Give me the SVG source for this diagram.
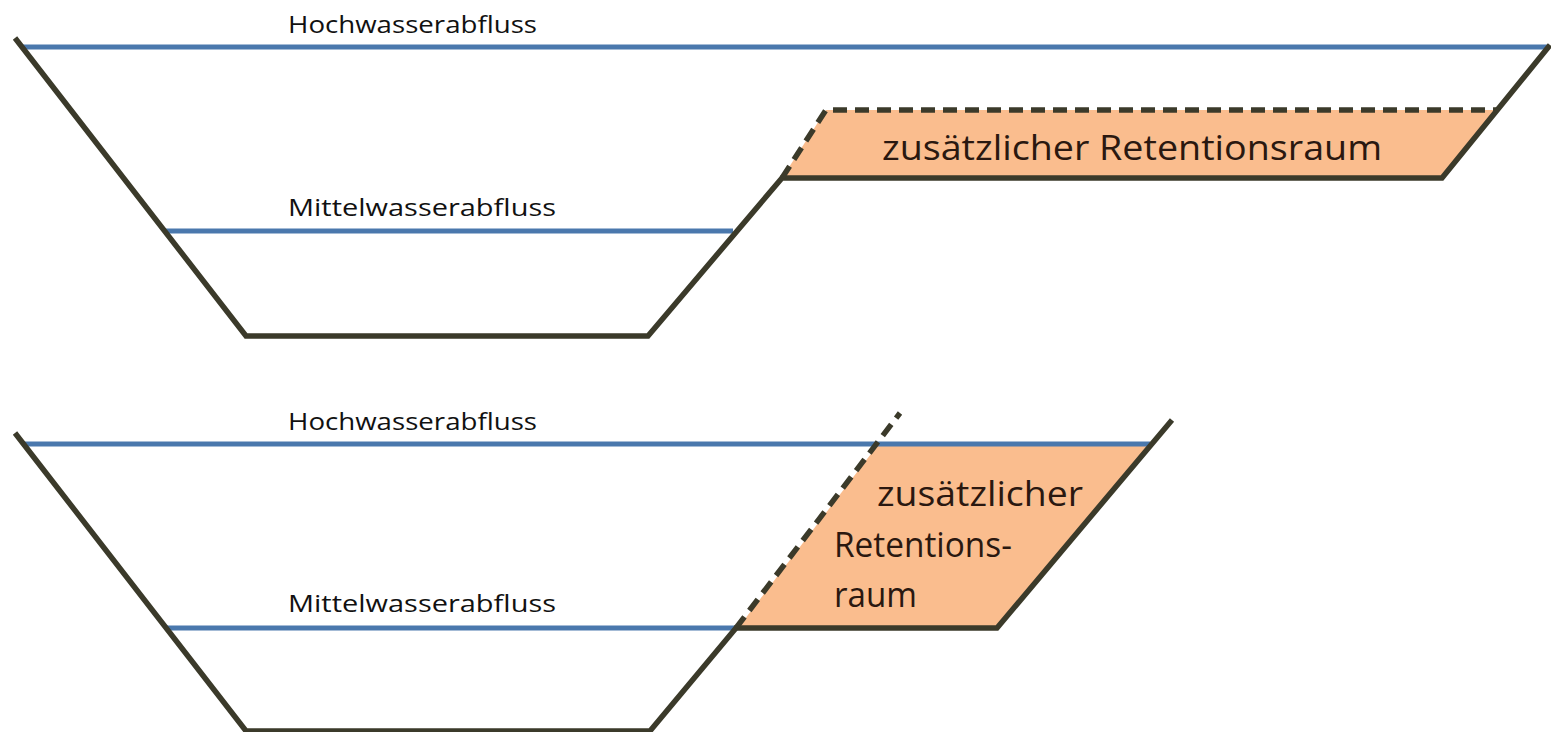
<svg xmlns="http://www.w3.org/2000/svg" width="1551" height="732" viewBox="0 0 1551 732">
<style>
.water{stroke:#4a78ad;stroke-width:5;fill:none}
.bank{stroke:#3b3a2a;stroke-width:5.5;fill:none;stroke-linejoin:miter}
.dash{stroke:#3b3a2a;stroke-width:5.5;fill:none;stroke-dasharray:14 8}
.fill{fill:#fabd8e;stroke:none}
.lbl{font-family:"Open Sans","Liberation Sans",sans-serif;font-size:23px;fill:#111}
.big{font-family:"Open Sans","Liberation Sans",sans-serif;font-size:35px;fill:#2a1810}
</style>
<rect width="1551" height="732" fill="#fff"/>
<g id="top">
  <polygon class="fill" points="782,178 826,110 1497,110 1442,178"/>
  <line class="water" x1="22" y1="47" x2="1548" y2="47"/>
  <line class="water" x1="165" y1="231" x2="733" y2="231"/>
  <polyline class="bank" points="15,38 246,336 648,336 782,178 1442,178 1550,45"/>
  <polyline class="dash" points="782,178 826,110 1497,110"/>
  <text class="lbl" x="288" y="33" textLength="249" lengthAdjust="spacingAndGlyphs">Hochwasserabfluss</text>
  <text class="lbl" x="288" y="216" textLength="268" lengthAdjust="spacingAndGlyphs">Mittelwasserabfluss</text>
  <text class="big" x="882" y="160" textLength="500" lengthAdjust="spacingAndGlyphs">zusätzlicher Retentionsraum</text>
</g>
<g id="bottom">
  <polygon class="fill" points="738,628 877,446 1150,446 997,628"/>
  <line class="water" x1="22" y1="444" x2="1150" y2="444"/>
  <line class="water" x1="165" y1="628" x2="738" y2="628"/>
  <polyline class="bank" points="15,433 246,731 650,731 736,628 997,628 1172,420"/>
  <line class="dash" x1="736" y1="628" x2="900" y2="413"/>
  <text class="lbl" x="288" y="430" textLength="249" lengthAdjust="spacingAndGlyphs">Hochwasserabfluss</text>
  <text class="lbl" x="288" y="612" textLength="268" lengthAdjust="spacingAndGlyphs">Mittelwasserabfluss</text>
  <text class="big" x="877" y="506" textLength="206" lengthAdjust="spacingAndGlyphs">zusätzlicher</text>
  <text class="big" x="834" y="557" textLength="178" lengthAdjust="spacingAndGlyphs">Retentions-</text>
  <text class="big" x="834" y="607" textLength="83" lengthAdjust="spacingAndGlyphs">raum</text>
</g>
</svg>
